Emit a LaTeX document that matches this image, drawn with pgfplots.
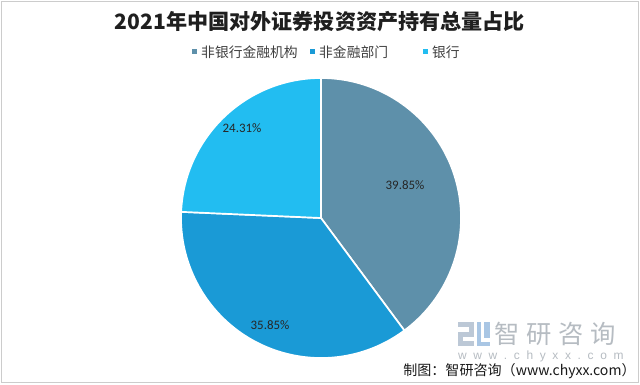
\documentclass[border=0pt]{standalone}
\usepackage{pgfplots}
\usepackage{pgfplotstable}
\pgfplotsset{compat=1.18}
\usepackage{fontspec}
\setmainfont{Carlito}
\newfontfamily\cjk{Noto Sans CJK SC}
\newfontfamily\lib{Liberation Sans}
\definecolor{c1}{HTML}{5E90AA}
\definecolor{c2}{HTML}{1A9AD6}
\definecolor{c3}{HTML}{22BDF1}
\definecolor{wm}{HTML}{B6BCC2}
\definecolor{lg1}{HTML}{BCC8D6}
\definecolor{lg2}{HTML}{A9C6E4}
\pgfplotstableread{
share
39.85
35.85
24.31
}\piedata
\pgfplotstablegetelem{0}{share}\of\piedata \let\va\pgfplotsretval
\pgfplotstablegetelem{1}{share}\of\piedata \let\vb\pgfplotsretval
\pgfplotstablegetelem{2}{share}\of\piedata \let\vc\pgfplotsretval
\pgfmathsetmacro\aA{90-3.6*\va}
\pgfmathsetmacro\aB{\aA-3.6*\vb}
\pgfmathsetmacro\aC{\aB-3.6*\vc}
\begin{document}%
\begin{tikzpicture}
\fill[white] (0,0) rectangle (16cm,9.6cm);
\begin{axis}[
  x=3.5cm, y=3.5cm,
  xmin=-1, xmax=1, ymin=-1, ymax=1,
  hide axis, clip=false,
  at={(8.025cm,4.15cm)}, anchor=origin,
]
\fill[c1, draw=white, line width=1.2pt] (axis cs:0,0) -- (axis cs:0,1) arc[start angle=90, end angle=\aA, radius=3.5cm] -- cycle;
\fill[c2, draw=white, line width=1.2pt] (axis cs:0,0) -- ({cos(\aA)},{sin(\aA)}) arc[start angle=\aA, end angle=\aB, radius=3.5cm] -- cycle;
\fill[c3, draw=white, line width=1.2pt] (axis cs:0,0) -- ({cos(\aB)},{sin(\aB)}) arc[start angle=\aB, end angle=\aC, radius=3.5cm] -- cycle;
\node[font=\fontsize{9.2pt}{10pt}\selectfont, text=black!85] at (axis cs:0.6,0.236) {39.85\%};
\node[font=\fontsize{9.2pt}{10pt}\selectfont, text=black!85] at (axis cs:-0.364,-0.764) {35.85\%};
\node[font=\fontsize{9.2pt}{10pt}\selectfont, text=black!85] at (axis cs:-0.564,0.643) {24.31\%};
\end{axis}
\begin{scope}[x=0.025cm, y=-0.025cm, shift={(0,9.6cm)}]
% frame
\draw[black!20, line width=0.6pt] (1,1) rectangle (639,383);
% title
\node[font=\cjk\bfseries\fontsize{15pt}{17pt}\selectfont, text=black!88] at (320,22) {2021年中国对外证券投资资产持有总量占比};
% legend
\fill[c1] (192,49.5) rectangle (197,54.5);
\node[anchor=west, inner sep=0pt, font=\cjk\fontsize{9.8pt}{11pt}\selectfont, text=black!75] at (201,52) {非银行金融机构};
\fill[c2] (310,49.5) rectangle (315,54.5);
\node[anchor=west, inner sep=0pt, font=\cjk\fontsize{9.8pt}{11pt}\selectfont, text=black!75] at (319,52) {非金融部门};
\fill[c3] (423,49.5) rectangle (428,54.5);
\node[anchor=west, inner sep=0pt, font=\cjk\fontsize{9.8pt}{11pt}\selectfont, text=black!75] at (432,52) {银行};
% watermark logo
\fill[lg1] (458,322) rectangle (474,327);
\fill[lg1] (469,327) rectangle (474,334);
\fill[lg1] (458,332) rectangle (474,337);
\fill[lg1] (458,337) rectangle (463,346);
\fill[lg1] (463,341) rectangle (474,346);
\fill[lg2] (477,322) rectangle (481,342);
\fill[lg2] (477,342) rectangle (490,346);
\fill[lg2] (484,322) rectangle (490,338);
\node[anchor=west, inner sep=0pt, font=\cjk\fontsize{18pt}{20pt}\selectfont, text=wm] at (494,334) {智\hspace{0.17cm}研\hspace{0.17cm}咨\hspace{0.17cm}询};
\node[anchor=west, inner sep=0pt, font=\lib\fontsize{8.5pt}{9pt}\selectfont, text=wm] at (458,356) {w\ \ w\ \ w\ \ .\ \ c\ \ h\ \ y\ \ x\ \ x\ \ .\ \ c\ \ o\ \ m};
\node[anchor=east, inner sep=0pt, font=\cjk\fontsize{10pt}{11pt}\selectfont, text=black!90] at (636,371) {制图：智研咨询（www.chyxx.com）};
\end{scope}
\end{tikzpicture}%
\end{document}
